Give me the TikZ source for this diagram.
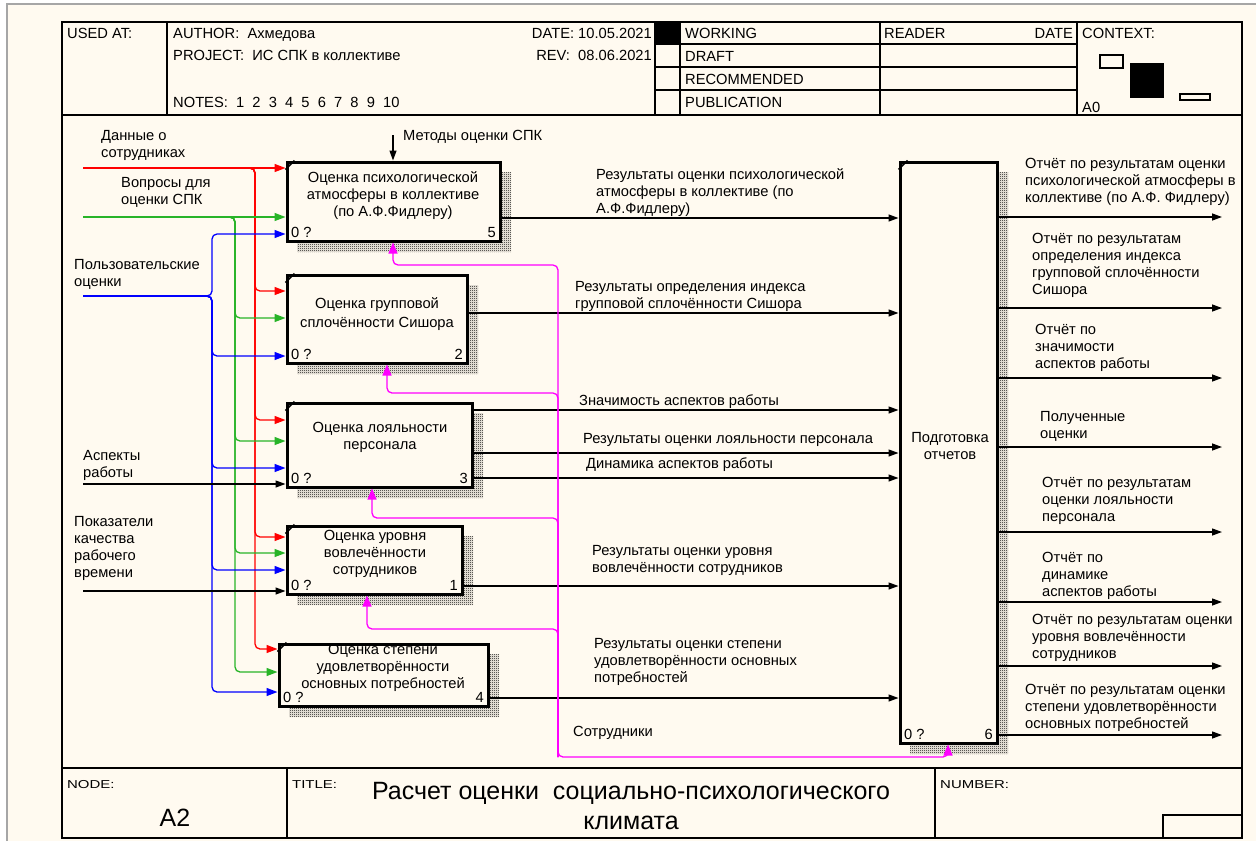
\documentclass[tikz,border=0pt]{standalone}
\usepackage{fontspec}
\setmainfont{Liberation Sans}
\usetikzlibrary{arrows.meta,patterns}

\definecolor{paper}{RGB}{255,250,240}
\definecolor{idefred}{RGB}{255,0,0}
\definecolor{idefgreen}{RGB}{40,180,40}
\definecolor{idefblue}{RGB}{0,0,255}
\definecolor{idefmag}{RGB}{255,0,255}

% fine checker used for the drop shadows of the activity boxes
\pgfdeclarepatternformonly{idefdots}{\pgfqpoint{0pt}{0pt}}{\pgfqpoint{2pt}{2pt}}{\pgfqpoint{2pt}{2pt}}{%
  \pgfpathrectangle{\pgfqpoint{0pt}{0pt}}{\pgfqpoint{1.1pt}{1.1pt}}%
  \pgfpathrectangle{\pgfqpoint{1pt}{1pt}}{\pgfqpoint{1.1pt}{1.1pt}}%
  \pgfusepath{fill}}

% shadow of a box: left, top, right, bottom
\newcommand\dropshade[4]{%
  \fill[pattern=idefdots, pattern color=black]
    (#3,#2+10) -- (#3+11,#2+10) -- (#3+11,#4+11) -- (#1+10,#4+11)
    -- (#1+10,#4) -- (#3,#4) -- cycle;}

% small form captions, set wide
\newcommand\formcap[1]{\scalebox{1.3}[1]{#1}}

\begin{document}
\begin{tikzpicture}[x=1pt,y=-1pt,
  every node/.style={inner sep=0pt, font=\fontsize{14.7}{17}\selectfont},
  lbl/.style={anchor=base west, align=left},
  rlbl/.style={anchor=base east, align=right},
  ctr/.style={anchor=base, align=center},
  actbox/.style={draw, line width=3pt},
  frameline/.style={line width=1.5pt},
  tip/.style={-{Triangle[length=11pt,width=8pt]}},
  arr/.style={line width=1.3pt, tip},
  rarr/.style={arr, idefred, rounded corners=5pt},
  garr/.style={arr, idefgreen, rounded corners=5pt},
  barr/.style={arr, idefblue, rounded corners=5pt},
  marr/.style={line width=1.3pt, idefmag, rounded corners=5pt,
               -{Triangle[length=11pt,width=9pt]}},
  karr/.style={line width=1.3pt, -{Triangle[length=10pt,width=7pt]}},
  notch/.style={line width=1.6pt}
]
\useasboundingbox (0,0) rectangle (1256,841);

% sheet
\fill[white] (0,0) rectangle (1256,841);
\fill[paper] (7,4) rectangle (1256,841);
\draw[black!35, line width=1.5pt] (7,841) -- (7,4) -- (1256,4);

% ---------- form frame ----------
\draw[frameline] (62,22) rectangle (1242,838);
\draw[frameline] (62,115) -- (1242,115);
\draw[frameline] (167,22) -- (167,115);
\draw[frameline] (655,22) -- (655,115);
\draw[frameline] (680,22) -- (680,115);
\draw[frameline] (880,22) -- (880,115);
\draw[frameline] (1077,22) -- (1077,115);
\foreach \yy in {44,67,90} \draw[frameline] (655,\yy) -- (1077,\yy);
\fill (655,22) rectangle (680,44);

\node[lbl] (usedat) at (67,38) {USED AT:};
\node[lbl] (author) at (173,38) {AUTHOR:~ Ахмедова};
\node[lbl] (project) at (173,60) {PROJECT:~ ИС СПК в коллективе};
\node[lbl] (notes) at (173,107) {NOTES:~ 1~ 2~ 3~ 4~ 5~ 6~ 7~ 8~ 9~ 10};
\node[rlbl] (date) at (652,38) {DATE: 10.05.2021};
\node[rlbl] (rev) at (652,60) {REV:~ 08.06.2021};
\node[lbl] (working) at (685,38) {WORKING};
\node[lbl] (draft) at (685,61) {DRAFT};
\node[lbl] (recom) at (685,84) {RECOMMENDED};
\node[lbl] (publ) at (685,107) {PUBLICATION};
\node[lbl] (reader) at (884,38) {READER};
\node[rlbl] (rdate) at (1073,38) {DATE};
\node[lbl] (context) at (1082,38) {CONTEXT:};
\node[lbl] (azero) at (1082,112) {A0};
\draw[line width=1.2pt] (1100,55) rectangle (1123,68);
\fill (1130,63) rectangle (1164,98);
\draw[line width=1.2pt] (1180,94) rectangle (1210,100);

% bottom block
\draw[frameline] (62,768) -- (1242,768);
\draw[frameline] (287,768) -- (287,838);
\draw[frameline] (935,768) -- (935,838);
\draw[frameline] (1163,838) -- (1163,815) -- (1242,815);
\node[lbl, font=\fontsize{11.5}{13}\selectfont] (nodelbl) at (67,788) {\formcap{NODE:}};
\node[lbl, font=\fontsize{11.5}{13}\selectfont] (titlelbl) at (292,788) {\formcap{TITLE:}};
\node[lbl, font=\fontsize{11.5}{13}\selectfont] (numberlbl) at (940,788) {\formcap{NUMBER:}};
\node[ctr, font=\fontsize{25}{30}\selectfont] (nodeid) at (175,826) {A2};
\node[ctr, font=\fontsize{25}{30}\selectfont] (title) at (631,829)
  {Расчет оценки~ социально-психологического\\климата};

% ---------- shadows ----------
\dropshade{287}{162}{500}{241}
\dropshade{287}{275}{467}{363}
\dropshade{287}{403}{472}{487}
\dropshade{287}{526}{462}{594}
\dropshade{279}{644}{488}{706}
\dropshade{900}{162}{997}{743}

% ---------- activity texts (under the borders) ----------
\node[ctr] (t5) at (393,216) {Оценка психологической\\атмосферы в коллективе\\(по А.Ф.Фидлеру)};
\node[ctr] (t2) at (377,327) {Оценка групповой\\[2pt]сплочённости Сишора};
\node[ctr] (t3) at (380,449) {Оценка лояльности\\персонала};
\node[ctr] (t1) at (375,574) {Оценка уровня\\вовлечённости\\сотрудников};
\node[ctr] (t4) at (383,688) {Оценка степени\\удовлетворённости\\основных потребностей};
\node[ctr] (t6) at (950,459) {Подготовка\\отчетов};

% ---------- activity boxes ----------
\node[actbox, minimum width=213pt, minimum height=79pt] (b5) at (393.5,201.5) {};
\node[actbox, minimum width=180pt, minimum height=88pt] (b2) at (377,319) {};
\node[actbox, minimum width=185pt, minimum height=84pt] (b3) at (379.5,445) {};
\node[actbox, minimum width=175pt, minimum height=68pt] (b1) at (374.5,560) {};
\node[actbox, minimum width=209pt, minimum height=62pt] (b4) at (383.5,675) {};
\node[actbox, minimum width=97pt, minimum height=581pt] (b6) at (948.5,452.5) {};

\foreach \b in {b5,b2,b3,b1,b4,b6}
  \draw[notch] ([yshift=-9pt]\b.north west) -- ([xshift=9pt]\b.north west);

% box corner marks
\node[lbl] (c5a) at (291,237) {0 ?};  \node[rlbl] (c5b) at (496,237) {5};
\node[lbl] (c2a) at (291,359) {0 ?};  \node[rlbl] (c2b) at (463,359) {2};
\node[lbl] (c3a) at (291,483) {0 ?};  \node[rlbl] (c3b) at (468,483) {3};
\node[lbl] (c1a) at (291,590) {0 ?};  \node[rlbl] (c1b) at (458,590) {1};
\node[lbl] (c4a) at (283,702) {0 ?};  \node[rlbl] (c4b) at (484,702) {4};
\node[lbl] (c6a) at (904,739) {0 ?};  \node[rlbl] (c6b) at (993,739) {6};

% ---------- inputs ----------
% Данные о сотрудниках
\coordinate (inred) at (83,168);
\draw[rarr] (inred) -- (b5.west |- 0,168);
\foreach \yy/\bx in {291/b2,420/b3,537/b1,649/b4}
  \draw[rarr] (245,168) -- (255,168) -- (255,\yy) -- (\bx.west |- 0,\yy);
% Вопросы для оценки СПК
\coordinate (ingreen) at (83,217);
\draw[garr] (ingreen) -- (b5.west |- 0,217);
\foreach \yy/\bx in {318/b2,441/b3,553/b1,672/b4}
  \draw[garr] (225,217) -- (235,217) -- (235,\yy) -- (\bx.west |- 0,\yy);
% Пользовательские оценки
\coordinate (inblue) at (83,296);
\foreach \yy/\bx in {234/b5,356/b2,468/b3,570/b1,692/b4}
  \draw[barr] (inblue) -- (212,296) -- (212,\yy) -- (\bx.west |- 0,\yy);
% black inputs
\coordinate (inasp) at (83,484);
\coordinate (inpok) at (83,591);
\draw[karr] (inasp) -- (b3.west |- 0,484);
\draw[karr] (inpok) -- (b1.west |- 0,591);

\node[lbl] (ldata) at (101,157) {Данные о\\сотрудниках};
\node[lbl] (lvopr) at (121,204) {Вопросы для\\оценки СПК};
\node[lbl] (lpolz) at (74,286) {Пользовательские\\оценки};
\node[lbl] (lasp) at (83,477) {Аспекты\\работы};
\node[lbl] (lpok) at (74,577) {Показатели\\качества\\рабочего\\времени};

% control
\coordinate (ctl) at (393,135);
\draw[karr] (ctl) -- (b5.north -| 393,0);
\node[lbl] (lctl) at (403,140) {Методы оценки СПК};

% ---------- internal outputs to box 6 ----------
\draw[karr] (b5.east |- 0,218) -- (b6.west |- 0,218);
\draw[karr] (b2.east |- 0,313) -- (b6.west |- 0,313);
\draw[karr] (b3.east |- 0,410) -- (b6.west |- 0,410);
\draw[karr] (b3.east |- 0,453) -- (b6.west |- 0,453);
\draw[karr] (b3.east |- 0,478) -- (b6.west |- 0,478);
\draw[karr] (b1.east |- 0,586) -- (b6.west |- 0,586);
\draw[karr] (b4.east |- 0,698) -- (b6.west |- 0,698);

\node[lbl] (o5) at (596,213) {Результаты оценки психологической\\атмосферы в коллективе (по\\А.Ф.Фидлеру)};
\node[lbl] (o2) at (575,308) {Результаты определения индекса\\групповой сплочённости Сишора};
\node[lbl] (o3a) at (579,405) {Значимость аспектов работы};
\node[lbl] (o3b) at (583,443) {Результаты оценки лояльности персонала};
\node[lbl] (o3c) at (586,468) {Динамика аспектов работы};
\node[lbl] (o1) at (592,572) {Результаты оценки уровня\\вовлечённости сотрудников};
\node[lbl] (o4) at (594,682) {Результаты оценки степени\\удовлетворённости основных\\потребностей};

% ---------- mechanism ----------
\coordinate (mech) at (558,757);
\draw[marr] (558,600) -- (mech) -- (948,757) -- (b6.south -| 948,0);
\draw[marr] (mech) -- (558,265) -- (393,265) -- (b5.south -| 393,0);
\draw[marr] (mech) -- (558,393) -- (387,393) -- (b2.south -| 387,0);
\draw[marr] (mech) -- (558,518) -- (372,518) -- (b3.south -| 372,0);
\draw[marr] (mech) -- (558,629) -- (367,629) -- (b1.south -| 367,0);
\node[lbl] (lmech) at (573,736) {Сотрудники};

% ---------- final outputs ----------
\foreach \yy [count=\i] in {217,308,378,447,532,602,666,735}
  \coordinate (out\i) at (1222,\yy);
\foreach \i/\yy in {1/217,2/308,3/378,4/447,5/532,6/602,7/666,8/735}
  \draw[karr] (b6.east |- 0,\yy) -- (out\i);

\node[lbl] (r1) at (1025,202) {Отчёт по результатам оценки\\психологической атмосферы в\\коллективе (по А.Ф. Фидлеру)};
\node[lbl] (r2) at (1032,294) {Отчёт по результатам\\определения индекса\\групповой сплочённости\\Сишора};
\node[lbl] (r3) at (1035,368) {Отчёт по\\значимости\\аспектов работы};
\node[lbl] (r4) at (1040,438) {Полученные\\оценки};
\node[lbl] (r5) at (1042,521) {Отчёт по результатам\\оценки лояльности\\персонала};
\node[lbl] (r6) at (1042,596) {Отчёт по\\динамике\\аспектов работы};
\node[lbl] (r7) at (1032,658) {Отчёт по результатам оценки\\уровня вовлечённости\\сотрудников};
\node[lbl] (r8) at (1025,728) {Отчёт по результатам оценки\\степени удовлетворённости\\основных потребностей};
\end{tikzpicture}
\end{document}
